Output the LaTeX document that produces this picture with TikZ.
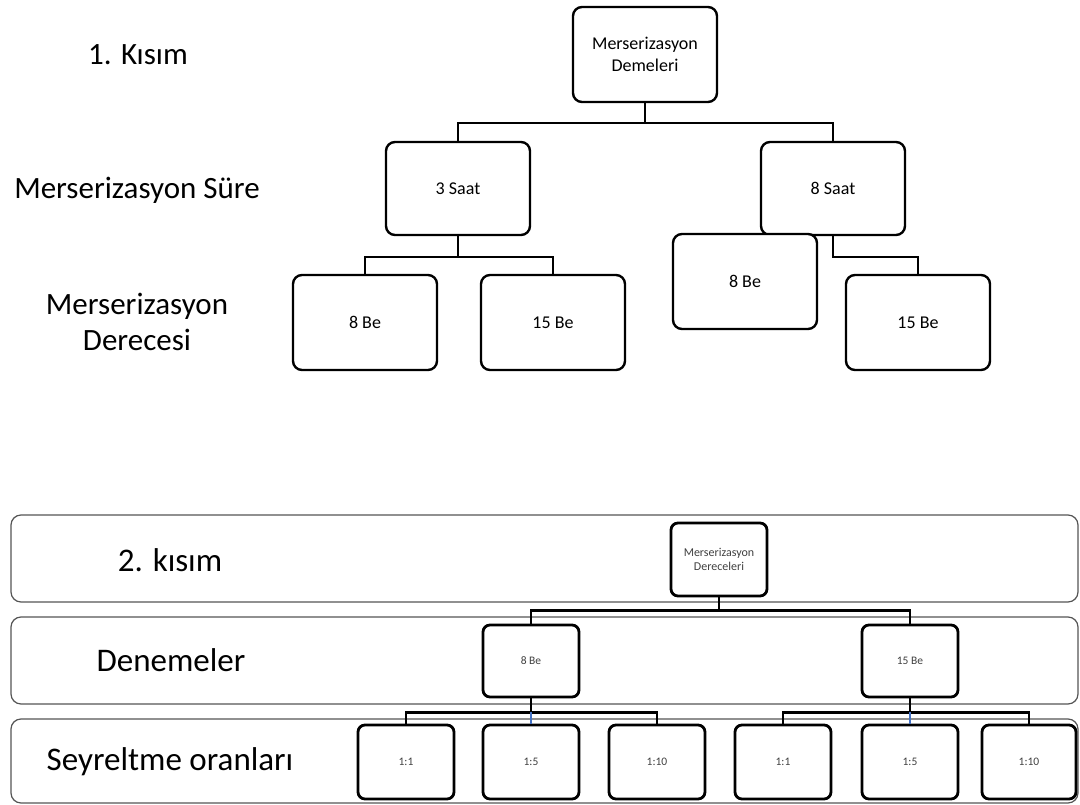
\documentclass[tikz,border=0pt]{standalone}
\usepackage{fontspec}
\setmainfont{Carlito}
\definecolor{bandline}{HTML}{555555}
\definecolor{midblue}{HTML}{4472C4}
\tikzset{
  box/.style={draw, line width=2.4pt, rounded corners=9pt, fill=white,
    minimum width=144pt, minimum height=94pt, inner sep=0pt, align=center,
    font=\fontsize{18}{22}\selectfont},
  sbox/.style={draw, line width=2.8pt, rounded corners=7pt, fill=white,
    minimum width=96pt, minimum height=73pt, inner sep=0pt, align=center,
    text=black!75, font=\fontsize{11.5}{14}\selectfont},
  band/.style={draw=bandline, line width=1.2pt, rounded corners=10pt},
  conn/.style={line width=2.4pt},
  lbl/.style={align=center, font=\fontsize{31}{36}\selectfont},
  blbl/.style={font=\fontsize{33}{38}\selectfont}
}
\begin{document}
\begin{tikzpicture}[x=1pt, y=-1pt]
\useasboundingbox (0,0) rectangle (1080,805);
%\draw[help lines, step=50] (0,0) grid (1080,805);

% 1. kisim
\node[lbl] (k1) at (138,55) {1. Kısım};
\node[lbl] (sure) at (137,190) {Merserizasyon Süre};
\node[lbl] (derece) at (137,322) {Merserizasyon\\Derecesi};

\node[box, minimum height=95pt] (root) at (645,54.5) {Merserizasyon\\Demeleri};
\node[box, minimum height=93pt] (s3) at (458,188.5) {3 Saat};
\node[box, minimum height=93pt] (s8) at (833,188.5) {8 Saat};
\node[box, minimum height=95pt] (a8) at (365,322.5) {8 Be};
\node[box, minimum height=95pt] (a15) at (553,322.5) {15 Be};
\node[box, minimum height=95pt] (b15) at (918,322.5) {15 Be};

\draw[conn] (root.south) -- ++(0,20) coordinate (h0) -| (s3.north);
\draw[conn] (h0) -| (s8.north);
\draw[conn] (s3.south) -- ++(0,21) coordinate (h3) -| (a8.north);
\draw[conn] (h3) -| (a15.north);
\draw[conn] (s8.south) -- ++(0,21) -| (b15.north);
% kayik kutu
\node[box, minimum height=95pt] (b8) at (745,281.5) {8 Be};

% 2. kisim
\draw[band] (11,515) rectangle (1078,602);
\draw[band] (11,617) rectangle (1078,704);
\draw[band] (11,719) rectangle (1078,803);
\node[blbl] (k2) at (170,560) {2. kısım};
\node[blbl] (den) at (171,660) {Denemeler};
\node[blbl] (sey) at (170,762) {Seyreltme oranları};

\node[sbox, font=\fontsize{12}{14}\selectfont] (droot) at (719,559.5) {Merserizasyon\\Dereceleri};
\node[sbox, minimum height=72pt] (d8) at (531,661) {8 Be};
\node[sbox, minimum height=72pt] (d15) at (910,661) {15 Be};
\node[sbox, minimum height=74pt] (p1) at (406,762) {1:1};
\node[sbox, minimum height=74pt] (p2) at (531,762) {1:5};
\node[sbox, minimum height=74pt] (p3) at (657,762) {1:10};
\node[sbox, minimum height=74pt] (q1) at (783,762) {1:1};
\node[sbox, minimum height=74pt] (q2) at (910,762) {1:5};
\node[sbox, minimum height=74pt, minimum width=94pt] (q3) at (1029,762) {1:10};

\draw[conn] (droot.south) -- ++(0,13) coordinate (g0) -| (d8.north);
\draw[conn] (g0) -| (d15.north);
\draw[conn] (d8.south) -- ++(0,14) coordinate (g8) -| (p1.north);
\draw[conn] (g8) -| (p3.north);
\draw[conn, midblue] (g8) -- (p2.north);
\draw[conn] (d15.south) -- ++(0,14) coordinate (g15) -| (q1.north);
\draw[conn] (g15) -| (q3.north);
\draw[conn, midblue] (g15) -- (q2.north);
\end{tikzpicture}
\end{document}
